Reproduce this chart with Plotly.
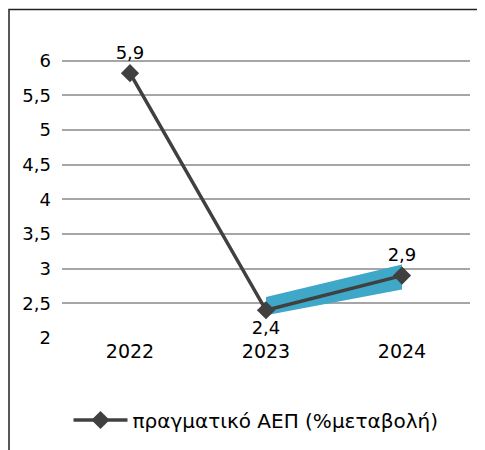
import plotly.graph_objects as go

years = ["2022", "2023", "2024"]
gdp = [5.82, 2.4, 2.9]
gdp_labels = ["5,9", "2,4", "2,9"]
label_pos = ["top center", "bottom center", "top center"]
band_years = ["2023", "2024"]
band_low = [2.33, 2.70]
band_high = [2.59, 3.06]
series_name = "πραγματικό ΑΕΠ (%μεταβολή)"

FONT = "DejaVu Sans"
OFF = 8  # page body margin
fig = go.Figure()
fig.add_trace(go.Scatter(x=band_years, y=band_low, mode="lines", line=dict(width=0, color="#3FA7C7"),
                         showlegend=False, hoverinfo="skip"))
fig.add_trace(go.Scatter(x=band_years, y=band_high, mode="lines", line=dict(width=0, color="#3FA7C7"),
                         fill="tonexty", fillcolor="#3FA7C7", showlegend=False, hoverinfo="skip"))
fig.add_trace(go.Scatter(x=years, y=gdp, mode="lines+markers+text", name=series_name,
                         line=dict(color="#404040", width=3.5),
                         marker=dict(symbol="diamond", size=14, color="#404040"),
                         text=gdp_labels, textposition=label_pos,
                         textfont=dict(family=FONT, size=18, color="#000000")))

W, H = 485 - OFF, 450 - OFF
L, T = 62 - OFF, 33 - OFF
pw, ph = 408, 305
R, B = W - L - pw, H - T - ph
bottom_px = T + ph
fig.add_shape(type="rect", xref="paper", yref="paper",
              x0=(1.0 - L) / pw, x1=(478 - OFF - L) / pw,
              y0=(bottom_px - 460) / ph, y1=(bottom_px - 1.5) / ph,
              line=dict(color="#222222", width=1.5), layer="below")

fig.update_layout(
    width=W, height=H, margin=dict(l=L, r=R, t=T, b=B, autoexpand=False),
    paper_bgcolor="white", plot_bgcolor="white",
    separators=",.",
    font=dict(family=FONT, size=18, color="#000000"),
    xaxis=dict(type="category", categoryorder="array", categoryarray=years,
               range=[-0.5, 2.5], showgrid=False, showline=False,
               ticks="", tickfont=dict(family=FONT, size=19)),
    yaxis=dict(range=[2, 6.4], tickvals=[2, 2.5, 3, 3.5, 4, 4.5, 5, 5.5, 6],
               showgrid=True, gridcolor="#A6A6A6", gridwidth=1.5, zeroline=False,
               showline=False, ticks="", ticklabelstandoff=10,
               tickfont=dict(family=FONT, size=18)),
    legend=dict(orientation="h", x=(256 - OFF) / W, xanchor="center", xref="container",
                y=1 - (420 - OFF) / H, yanchor="middle", yref="container", itemwidth=54,
                font=dict(family=FONT, size=20)),
    showlegend=True,
)
fig.write_html("out.html")
